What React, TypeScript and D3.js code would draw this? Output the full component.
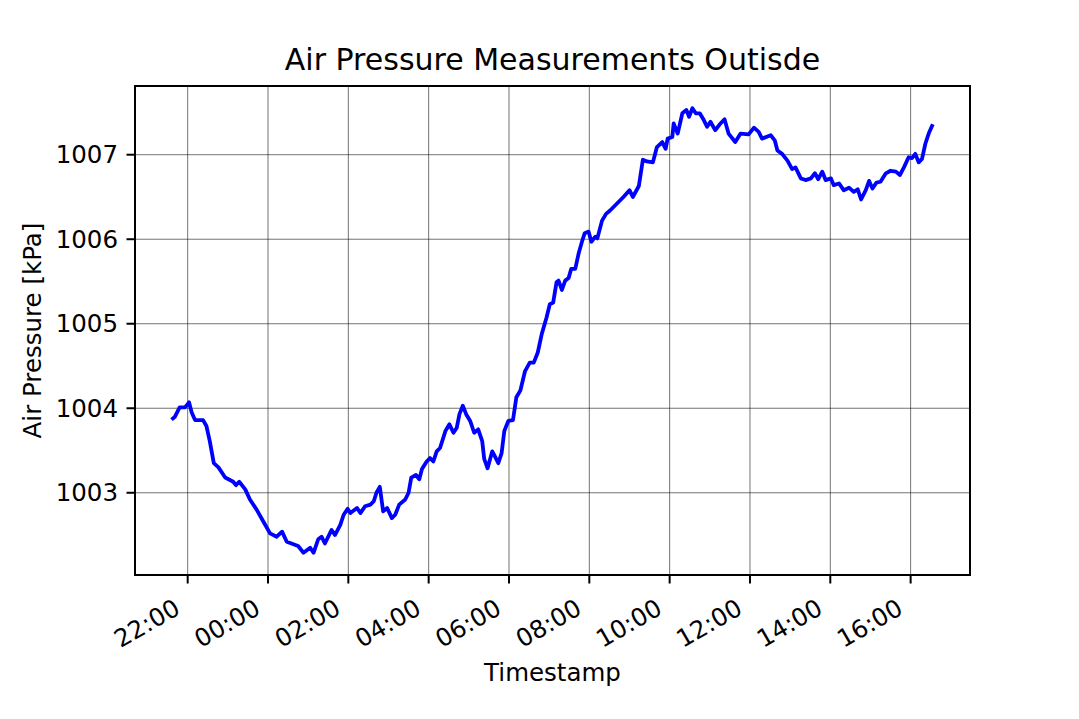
import React from "react";
import * as d3 from "d3";

const times: string[] = [
  "21:38","21:41","21:48","21:56","22:02","22:06","22:11","22:23","22:28","22:33",
  "22:39","22:46","22:56","23:08","23:12","23:17","23:26","23:33","23:43","23:53",
  "00:03","00:13","00:21","00:28","00:38","00:45","00:53","01:03","01:08","01:15",
  "01:20","01:25","01:35","01:40","01:48","01:53","01:59","02:03","02:13","02:18",
  "02:25","02:33","02:38","02:42","02:47","02:52","02:58","03:05","03:10","03:16",
  "03:25","03:30","03:34","03:41","03:46","03:50","03:57","04:02","04:07","04:12",
  "04:17","04:25","04:31","04:37","04:42","04:46","04:51","04:56","05:02","05:08",
  "05:14","05:20","05:23","05:28","05:35","05:39","05:44","05:49","05:53","05:59",
  "06:06","06:11","06:17","06:24","06:31","06:37","06:43","06:49","06:56","07:01",
  "07:06","07:11","07:14","07:19","07:24","07:29","07:33","07:39","07:44","07:49",
  "07:53","07:59","08:03","08:09","08:12","08:19","08:25","08:31","08:41","08:51",
  "09:00","09:05","09:14","09:20","09:26","09:35","09:41","09:49","09:54","09:57",
  "10:04","10:06","10:12","10:19","10:25","10:29","10:34","10:39","10:45","10:51",
  "10:56","11:01","11:08","11:16","11:22","11:28","11:38","11:46","11:58","12:06",
  "12:13","12:18","12:31","12:37","12:41","12:48","12:56","13:03","13:08","13:16",
  "13:23","13:31","13:37","13:42","13:48","13:53","14:01","14:05","14:13","14:20",
  "14:28","14:35","14:41","14:46","14:53","14:58","15:03","15:09","15:15","15:23",
  "15:30","15:38","15:44","15:50","15:57","16:02","16:07","16:12","16:17","16:22",
  "16:27","16:32",
];

const pressure: number[] = [
  1003.88,1003.90,1004.01,1004.01,1004.07,1003.95,1003.86,1003.86,1003.79,1003.61,
  1003.35,1003.30,1003.18,1003.13,1003.09,1003.13,1003.04,1002.92,1002.80,1002.66,
  1002.52,1002.48,1002.54,1002.42,1002.39,1002.37,1002.29,1002.35,1002.29,1002.45,
  1002.48,1002.40,1002.56,1002.50,1002.62,1002.74,1002.81,1002.76,1002.82,1002.76,
  1002.84,1002.86,1002.90,1003.00,1003.07,1002.78,1002.82,1002.70,1002.74,1002.86,
  1002.92,1003.00,1003.18,1003.21,1003.16,1003.28,1003.37,1003.41,1003.37,1003.49,
  1003.53,1003.73,1003.81,1003.71,1003.77,1003.93,1004.03,1003.93,1003.85,1003.71,
  1003.75,1003.61,1003.40,1003.29,1003.49,1003.43,1003.35,1003.47,1003.73,1003.85,
  1003.86,1004.13,1004.21,1004.44,1004.54,1004.54,1004.66,1004.88,1005.07,1005.23,
  1005.25,1005.49,1005.51,1005.40,1005.51,1005.54,1005.65,1005.65,1005.83,1005.97,
  1006.07,1006.09,1005.97,1006.03,1006.01,1006.22,1006.30,1006.34,1006.42,1006.50,
  1006.58,1006.50,1006.63,1006.94,1006.92,1006.91,1007.09,1007.15,1007.07,1007.19,
  1007.21,1007.37,1007.25,1007.49,1007.53,1007.45,1007.55,1007.49,1007.49,1007.41,
  1007.33,1007.39,1007.29,1007.37,1007.42,1007.25,1007.15,1007.25,1007.24,1007.32,
  1007.27,1007.19,1007.23,1007.17,1007.05,1007.01,1006.93,1006.83,1006.85,1006.72,
  1006.70,1006.72,1006.78,1006.71,1006.80,1006.70,1006.72,1006.64,1006.66,1006.58,
  1006.61,1006.56,1006.59,1006.47,1006.58,1006.69,1006.60,1006.67,1006.68,1006.78,
  1006.81,1006.80,1006.76,1006.85,1006.97,1006.96,1007.01,1006.91,1006.95,1007.13,
  1007.25,1007.34,
];

const yTicks: number[] = [1003, 1004, 1005, 1006, 1007];

const title = "Air Pressure Measurements Outisde";
const xLabel = "Timestamp";
const yLabel = "Air Pressure [kPa]";

const W = 1079;
const H = 719;
const M = { left: 135, right: 970, top: 86, bottom: 575 };
const FONT = "'DejaVu Sans', sans-serif";
const FS = 24.5;
const TFS = 30;

function buildDates(): Date[] {
  const out: Date[] = [];
  let day = 1;
  let prev = -1;
  for (const t of times) {
    const [h, m] = t.split(":").map(Number);
    const mins = h * 60 + m;
    if (prev >= 0 && mins < prev) day += 1;
    prev = mins;
    out.push(new Date(2023, 0, day, h, m));
  }
  return out;
}

export default function App() {
  const dates = buildDates();
  const data = dates.map((d, i) => ({ t: d, v: pressure[i] }));

  const [t0, t1] = d3.extent(dates) as [Date, Date];
  const span = +t1 - +t0;
  const x = d3
    .scaleTime()
    .domain([new Date(+t0 - span * 0.05), new Date(+t1 + span * 0.05)])
    .range([M.left, M.right]);

  const [v0, v1] = d3.extent(pressure) as [number, number];
  const vs = v1 - v0;
  const y = d3
    .scaleLinear()
    .domain([v0 - vs * 0.05, v1 + vs * 0.05])
    .range([M.bottom, M.top]);

  const xTicks = x.ticks(d3.timeHour.every(2)!);
  const fmt = d3.timeFormat("%H:%M");

  const line = d3
    .line<{ t: Date; v: number }>()
    .x((d) => x(d.t))
    .y((d) => y(d.v));

  const tickLen = 8.5;
  const pad = 8.5;

  return (
    <svg width={W} height={H} style={{ display: "block", position: "absolute", left: 0, top: 0 }}>
      <rect x={0} y={0} width={W} height={H} fill="#fff" />
      {xTicks.map((t, i) => (
        <line key={"gx" + i} x1={x(t)} x2={x(t)} y1={M.top} y2={M.bottom} stroke="#000" strokeOpacity={0.55} strokeWidth={1} />
      ))}
      {yTicks.map((v, i) => (
        <line key={"gy" + i} x1={M.left} x2={M.right} y1={y(v)} y2={y(v)} stroke="#000" strokeOpacity={0.55} strokeWidth={1} />
      ))}
      <path d={line(data) || ""} fill="none" stroke="#0000ff" strokeWidth={3.8} strokeLinejoin="round" strokeLinecap="square" />
      <rect x={M.left} y={M.top} width={M.right - M.left} height={M.bottom - M.top} fill="none" stroke="#000" strokeWidth={2} />
      {xTicks.map((t, i) => (
        <g key={"xt" + i}>
          <line x1={x(t)} x2={x(t)} y1={M.bottom} y2={M.bottom + tickLen} stroke="#000" strokeWidth={2} />
          <text
            transform={`translate(${x(t) - 6},${M.bottom + 38}) rotate(-30)`}
            textAnchor="end"
            fontFamily={FONT}
            fontSize={FS}
            fill="#000"
          >
            {fmt(t)}
          </text>
        </g>
      ))}
      {yTicks.map((v, i) => (
        <g key={"yt" + i}>
          <line x1={M.left - tickLen} x2={M.left} y1={y(v)} y2={y(v)} stroke="#000" strokeWidth={2} />
          <text
            x={M.left - tickLen - pad}
            y={y(v)}
            textAnchor="end"
            dominantBaseline="central"
            fontFamily={FONT}
            fontSize={FS}
            fill="#000"
          >
            {v}
          </text>
        </g>
      ))}
      <text x={(M.left + M.right) / 2} y={70} textAnchor="middle" fontFamily={FONT} fontSize={TFS} fill="#000">
        {title}
      </text>
      <text x={(M.left + M.right) / 2} y={680.5} textAnchor="middle" fontFamily={FONT} fontSize={FS} fill="#000">
        {xLabel}
      </text>
      <text
        transform={`translate(40.5,${(M.top + M.bottom) / 2}) rotate(-90)`}
        textAnchor="middle"
        fontFamily={FONT}
        fontSize={FS}
        fill="#000"
      >
        {yLabel}
      </text>
    </svg>
  );
}
